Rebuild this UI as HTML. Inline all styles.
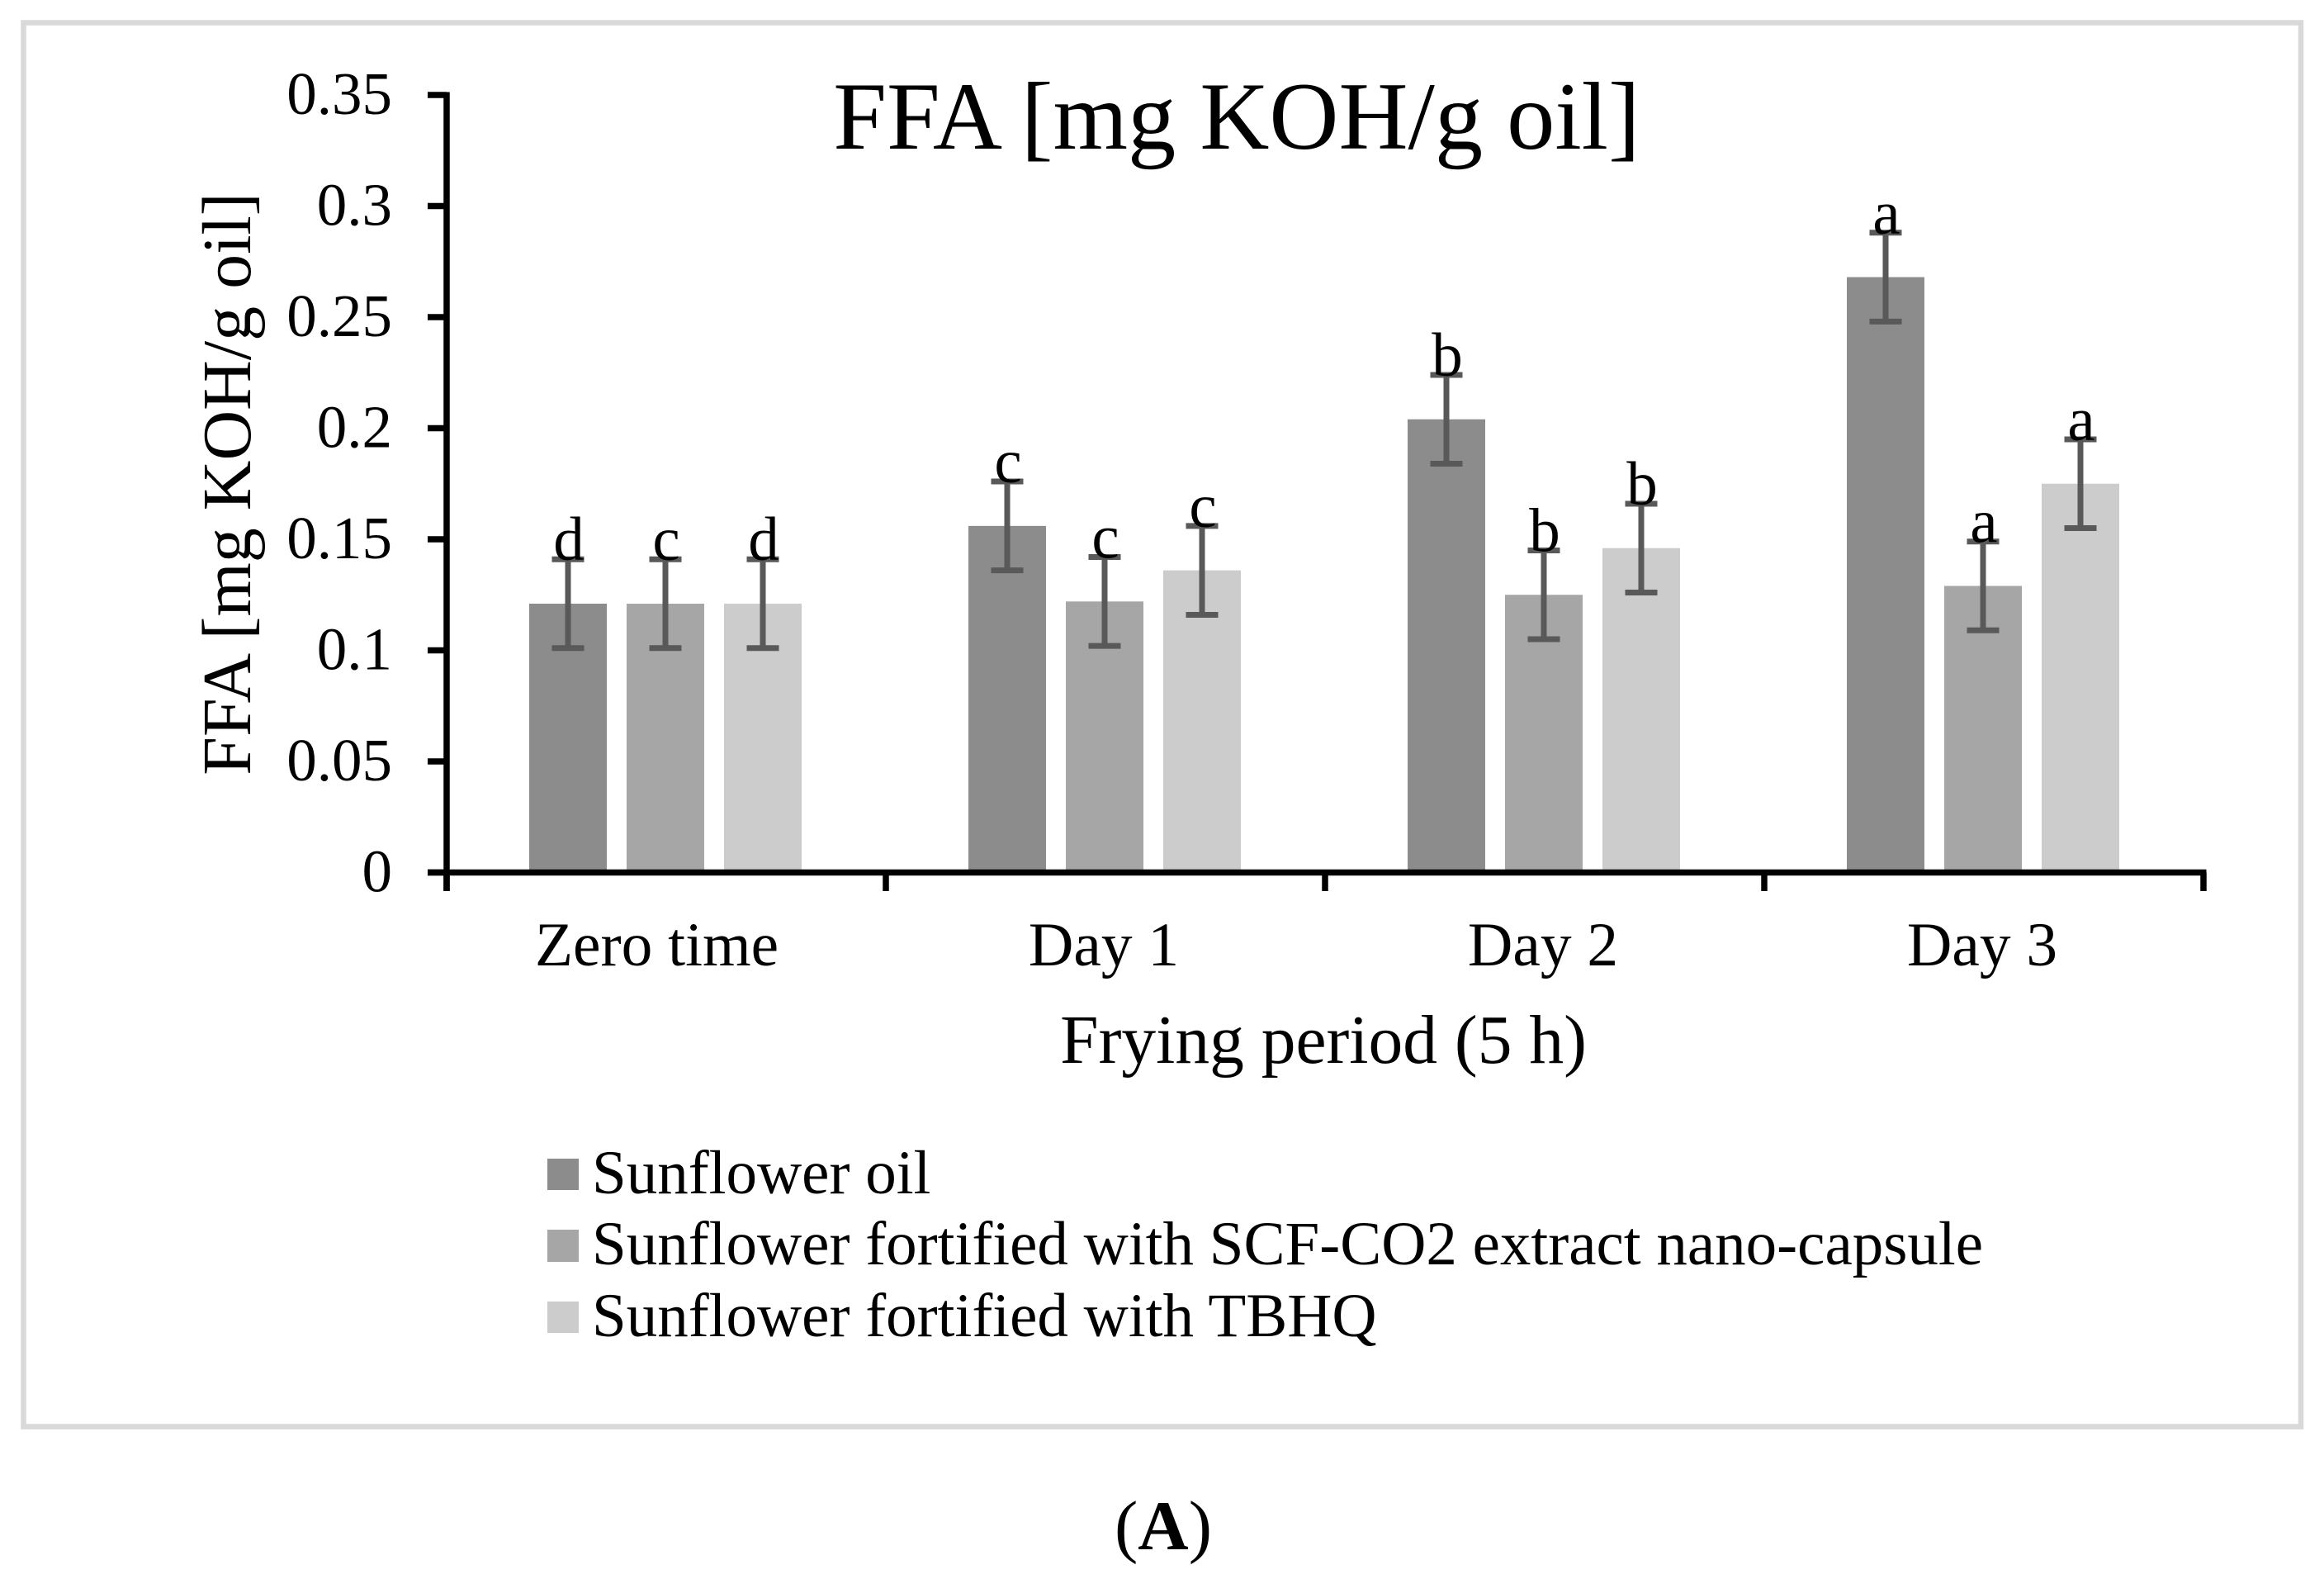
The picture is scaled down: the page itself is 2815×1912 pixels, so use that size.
<!DOCTYPE html>
<html lang="en">
<head>
<meta charset="utf-8">
<title>FFA chart</title>
<style>
html,body{margin:0;padding:0;background:#fff;}
body{width:2815px;height:1912px;overflow:hidden;}
svg{display:block;}
text{font-family:"Liberation Serif",serif;fill:#000;}
</style>
</head>
<body>
<svg id="chart" xmlns="http://www.w3.org/2000/svg" width="2815" height="1912" viewBox="0 0 2815 1912">
  <rect x="0" y="0" width="2815" height="1912" fill="#ffffff"/>
  <rect x="28.5" y="27.5" width="2758.5" height="1700" fill="#ffffff" stroke="#d9d9d9" stroke-width="6.5"/>
  <text x="1498" y="180" font-size="116.4" text-anchor="middle">FFA [mg KOH/g oil]</text>
  <text transform="translate(303,586) rotate(-90)" font-size="84" text-anchor="middle">FFA [mg KOH/g oil]</text>
  <text x="1603" y="1287" font-size="83.5" text-anchor="middle">Frying period (5 h)</text>
  <g id="marks"></g>
  <g>
    <g>
      <rect x="663" y="1403" width="38" height="38" fill="#8c8c8c"/>
      <text x="717" y="1445" font-size="75">Sunflower oil</text>
    </g>
    <g>
      <rect x="663" y="1489" width="38" height="39" fill="#a6a6a6"/>
      <text x="717" y="1531" font-size="75">Sunflower fortified with SCF-CO2 extract nano-capsule</text>
    </g>
    <g>
      <rect x="663" y="1576" width="38" height="38" fill="#cccccc"/>
      <text x="717" y="1618" font-size="75">Sunflower fortified with TBHQ</text>
    </g>
  </g>
  <text x="1409" y="1876" font-size="85" text-anchor="middle">(<tspan font-weight="bold">A</tspan>)</text>
</svg>
<script>
const categories = ["Zero time ", "Day 1", "Day 2", "Day 3"];
const sunflowerOil = [0.121, 0.156, 0.204, 0.268];
const scfCo2Capsule = [0.121, 0.122, 0.125, 0.129];
const tbhq = [0.121, 0.136, 0.146, 0.175];
const sunflowerOilError = [0.02, 0.02, 0.02, 0.02];
const scfCo2CapsuleError = [0.02, 0.02, 0.02, 0.02];
const tbhqError = [0.02, 0.02, 0.02, 0.02];
const sunflowerOilLetters = ["d", "c", "b", "a"];
const scfCo2CapsuleLetters = ["c", "c", "b", "a"];
const tbhqLetters = ["d", "c", "b", "a"];
const yTicks = [0, 0.05, 0.1, 0.15, 0.2, 0.25, 0.3, 0.35];
const yTickLabels = ["0", "0.05", "0.1", "0.15", "0.2", "0.25", "0.3", "0.35"];

const NS = "http://www.w3.org/2000/svg";
const root = document.getElementById("marks");
const axisX0 = 541, axisX1 = 2669, axisY0 = 1056.5, axisYTop = 115, yMax = 0.35;
const groupWidth = (axisX1 - axisX0) / categories.length;
const barWidth = 94, barStep = 118, capWidth = 39;
const axisStroke = 7.5, errorStroke = 7;

function yScale(v) { return axisY0 - (v / yMax) * (axisY0 - axisYTop); }
function xCenter(i) { return axisX0 + groupWidth * (i + 0.5); }
function make(tag, attrs, parent) {
  const el = document.createElementNS(NS, tag);
  for (const k in attrs) el.setAttribute(k, attrs[k]);
  (parent || root).appendChild(el);
  return el;
}

const series = [
  { key: "sunflower-oil", values: sunflowerOil, errors: sunflowerOilError, letters: sunflowerOilLetters, fill: "#8c8c8c" },
  { key: "scf-co2", values: scfCo2Capsule, errors: scfCo2CapsuleError, letters: scfCo2CapsuleLetters, fill: "#a6a6a6" },
  { key: "tbhq", values: tbhq, errors: tbhqError, letters: tbhqLetters, fill: "#cccccc" }
];

series.forEach(function (s, si) {
  s.values.forEach(function (v, i) {
    const cx = xCenter(i) + (si - 1) * barStep - 1;
    const bar = make("rect", { x: cx - barWidth / 2, y: yScale(v), width: barWidth, height: axisY0 - yScale(v), fill: s.fill });
    
    
  });
});

series.forEach(function (s, si) {
  s.values.forEach(function (v, i) {
    const cx = xCenter(i) + (si - 1) * barStep - 1;
    const hi = yScale(v + s.errors[i]), lo = yScale(v - s.errors[i]);
    const err = make("path", {
      d: "M" + (cx - capWidth / 2) + " " + hi + "H" + (cx + capWidth / 2) +
         "M" + cx + " " + hi + "V" + lo +
         "M" + (cx - capWidth / 2) + " " + lo + "H" + (cx + capWidth / 2),
      stroke: "#595959", "stroke-width": errorStroke, fill: "none"
    });
    
    
  });
});

series.forEach(function (s, si) {
  s.values.forEach(function (v, i) {
    const cx = xCenter(i) + (si - 1) * barStep;
    const t = make("text", { x: cx, y: yScale(v + s.errors[i]) + 1, "font-size": 75, "text-anchor": "middle" });
    t.textContent = s.letters[i];
    
    
  });
});

const yAxis = make("line", { x1: axisX0, x2: axisX0, y1: axisYTop - 3.5, y2: 1079, stroke: "#000", "stroke-width": axisStroke });



const xAxis = make("line", { x1: 518, x2: axisX1 + 3.5, y1: axisY0, y2: axisY0, stroke: "#000", "stroke-width": axisStroke });



yTicks.forEach(function (v, i) {
  const tick = make("line", { x1: 518, x2: axisX0, y1: yScale(v), y2: yScale(v), stroke: "#000", "stroke-width": axisStroke });
  
  
  const label = make("text", { x: 475, y: yScale(v) + 23, "font-size": 73, "text-anchor": "end" });
  label.textContent = yTickLabels[i];
  
  
});

categories.forEach(function (c, i) {
  const label = make("text", { x: xCenter(i) - 2, y: 1169, "font-size": 75.4, "text-anchor": "middle" });
  label.style.whiteSpace = "pre";
  label.textContent = c;
  
  
});
for (let i = 0; i <= categories.length; i++) {
  const tx = axisX0 + groupWidth * i;
  const tick = make("line", { x1: tx, x2: tx, y1: axisY0, y2: 1079, stroke: "#000", "stroke-width": axisStroke });
  
  
}
</script>
</body>
</html>
